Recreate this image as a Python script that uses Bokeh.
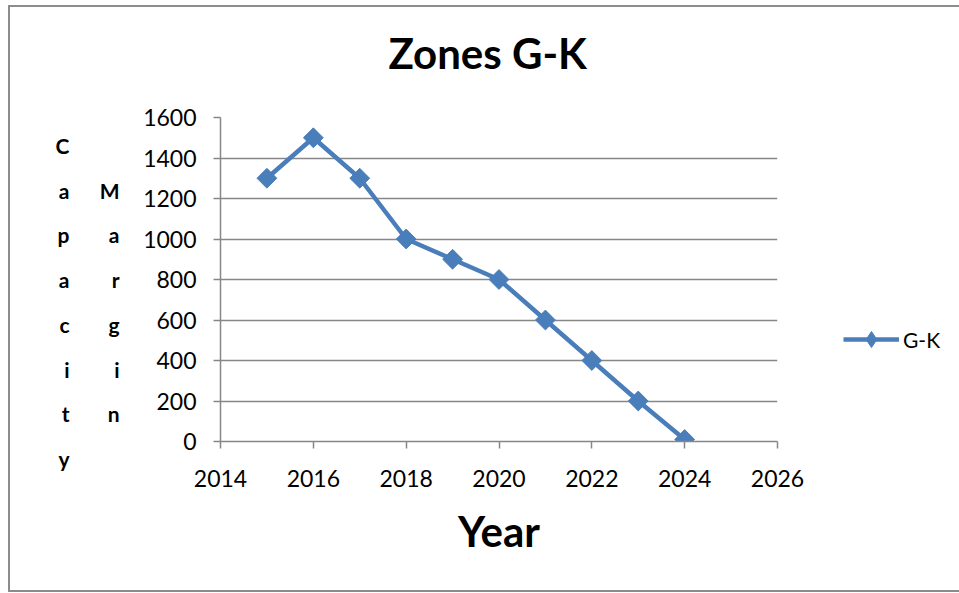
from bokeh.plotting import figure
from bokeh.models import Legend, LegendItem, Range1d, LinearAxis, Title
from bokeh.embed import file_html
from bokeh.resources import INLINE
import numpy as np

# ---- data ----
years = [2015, 2016, 2017, 2018, 2019, 2020, 2021, 2022, 2023, 2024]
capacity_margin = [1300, 1500, 1300, 1000, 900, 800, 600, 400, 200, 10]
x_ticks = [2014, 2016, 2018, 2020, 2022, 2024, 2026]
y_ticks = [0, 200, 400, 600, 800, 1000, 1200, 1400, 1600]
title_text = "Zones G-K"
x_label = "Year"
y_label_words = ["Capacity", "Margin"]
series_name = "G-K"

BLUE = "#4A7EBB"
GRAY = "#878787"
FONT = "Lato"

p = figure(frame_width=557, frame_height=324, output_backend="svg", toolbar_location=None,
           title=None,
           x_range=Range1d(2014, 2026), y_range=Range1d(0, 1600),
           min_border_left=210, min_border_right=180,
           min_border_top=110, min_border_bottom=149)
p.styles = {"margin-left": "8px", "margin-top": "5px",
            "border-left": "2px solid #8c8c8c", "border-top": "2px solid #8c8c8c",
            "border-bottom": "2px solid #8c8c8c"}
p.outline_line_color = None
p.background_fill_color = "white"
p.border_fill_color = "white"

# spacer between frame and title, then the title itself
p.add_layout(Title(text=" ", text_font_size="1px", standoff=37), "above")
p.add_layout(Title(text=title_text, align="left", offset=168, standoff=0,
                   text_font=FONT, text_font_style="bold", text_font_size="42px",
                   text_color="black"), "above")

for ax in (p.xaxis[0], p.yaxis[0]):
    ax.axis_line_color = GRAY
    ax.axis_line_width = 1.5
    ax.major_tick_line_color = GRAY
    ax.major_tick_line_width = 1.5
    ax.major_tick_out = 7
    ax.major_tick_in = 0
    ax.minor_tick_line_color = None
    ax.major_label_text_font = FONT
    ax.major_label_text_font_size = "23px"
    ax.major_label_text_color = "black"
p.xaxis[0].ticker = x_ticks
p.yaxis[0].ticker = y_ticks
p.xaxis[0].major_label_standoff = 21
p.yaxis[0].major_label_standoff = 17

p.xaxis[0].axis_label = x_label
p.xaxis[0].axis_label_text_font = FONT
p.xaxis[0].axis_label_text_font_style = "bold"
p.xaxis[0].axis_label_text_font_size = "42px"
p.xaxis[0].axis_label_text_color = "black"
p.xaxis[0].axis_label_standoff = 16

# stacked y label letters: two extra label-only axes on the left
def label_axis(word, standoff):
    ax = LinearAxis(ticker=[], axis_line_color=None, major_tick_line_color=None,
                    minor_tick_line_color=None, major_label_text_font_size="0px")
    ax.axis_label = "\n" + "\n".join(word)
    ax.axis_label_orientation = "horizontal"
    ax.axis_label_text_font = FONT
    ax.axis_label_text_font_style = "bold"
    ax.axis_label_text_font_size = "21px"
    ax.axis_label_text_line_height = 1.79
    ax.axis_label_text_color = "black"
    ax.axis_label_standoff = standoff
    p.add_layout(ax, "left")

label_axis(y_label_words[1], 21)
label_axis(y_label_words[0], 27)

p.xgrid.visible = False
p.ygrid.grid_line_color = GRAY
p.ygrid.grid_line_width = 1.5

line_r = p.line(years, capacity_margin, line_width=4.5, color=BLUE)
# diamond shape used for the legend swatch (hidden under the first plotted marker)
legend_marker = p.scatter(years[:1], capacity_margin[:1], marker="diamond", size=4, color=BLUE)
pts_r = p.scatter(years, capacity_margin, marker="square", angle=np.pi / 4,
                  size=14, color=BLUE)

legend = Legend(items=[LegendItem(label=series_name, renderers=[line_r, legend_marker])],
                location=(66, 82), padding=0, margin=0, spacing=0,
                border_line_color=None, background_fill_alpha=0,
                glyph_width=56, glyph_height=40, label_standoff=4,
                label_text_font=FONT, label_text_font_size="21px",
                label_text_color="black", label_text_baseline="middle")
p.add_layout(legend, "right")

open("out.html", "w").write(file_html(p, INLINE))
